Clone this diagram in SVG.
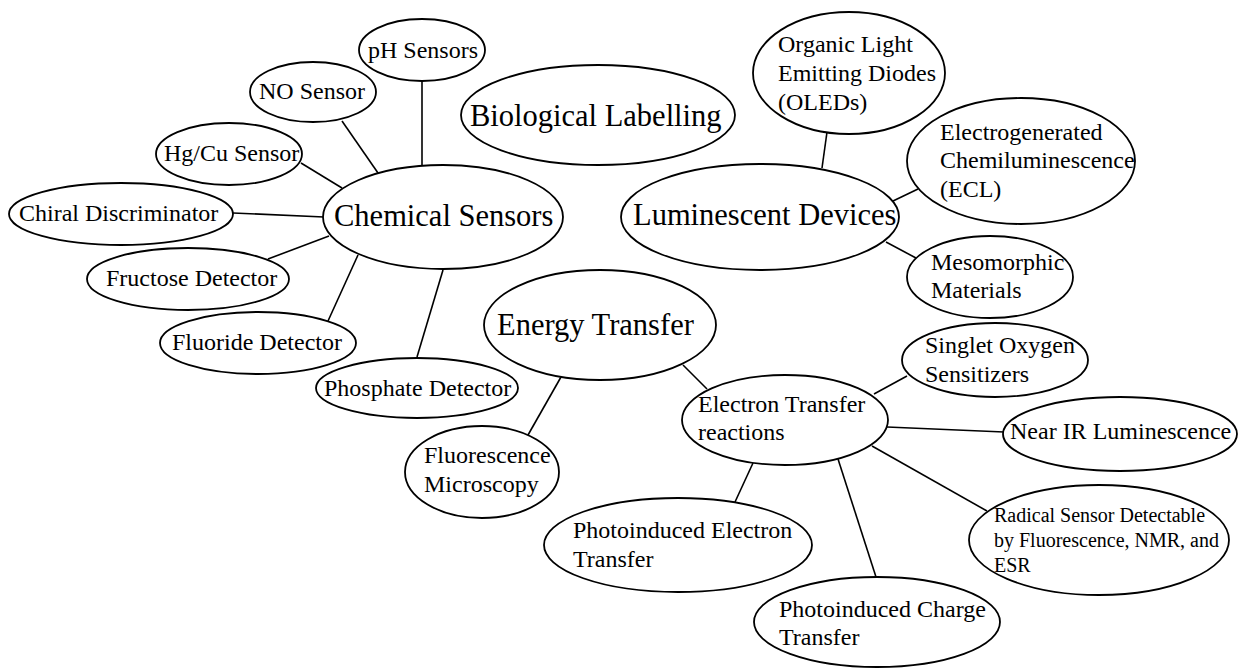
<svg xmlns="http://www.w3.org/2000/svg" width="1241" height="668" viewBox="0 0 1241 668" font-family="'Liberation Serif', 'Times New Roman', 'DejaVu Serif', serif">
<style>
.n ellipse{fill:#fff;stroke:#000;stroke-width:1.8}
.n text{fill:#000;font-family:'Liberation Serif','Times New Roman','DejaVu Serif',serif}
.s{font-size:24px}
.l{font-size:30.5px}
.r{font-size:20px}
#connectors line{stroke:#000;stroke-width:1.6}
</style>
<rect width="1241" height="668" fill="#fff"/>
<g id="connectors">
<line x1="422" y1="81" x2="422" y2="166"/>
<line x1="342" y1="121" x2="378" y2="173"/>
<line x1="301" y1="163" x2="342" y2="188"/>
<line x1="233" y1="213" x2="324" y2="217"/>
<line x1="268" y1="259" x2="329" y2="236"/>
<line x1="328" y1="321" x2="358" y2="255"/>
<line x1="417" y1="357" x2="443" y2="270"/>
<line x1="827" y1="132" x2="822" y2="168"/>
<line x1="918" y1="189" x2="893" y2="201"/>
<line x1="886" y1="242" x2="916" y2="258"/>
<line x1="683" y1="365" x2="707" y2="389"/>
<line x1="561" y1="377" x2="528" y2="435"/>
<line x1="874" y1="394" x2="907" y2="376"/>
<line x1="887" y1="427" x2="1004" y2="432"/>
<line x1="872" y1="446" x2="987" y2="511"/>
<line x1="838" y1="459" x2="876" y2="577"/>
<line x1="753" y1="463" x2="735" y2="502"/>
</g>
<g id="ph" class="n"><ellipse cx="422" cy="50" rx="63" ry="31"/><text class="s" x="368" y="58">pH Sensors</text></g>
<g id="no" class="n"><ellipse cx="313" cy="92" rx="63" ry="30"/><text class="s" x="259" y="99">NO Sensor</text></g>
<g id="hgcu" class="n"><ellipse cx="229" cy="154" rx="73" ry="31"/><text class="s" x="164" y="161">Hg/Cu Sensor</text></g>
<g id="chiral" class="n"><ellipse cx="121" cy="214" rx="112" ry="31"/><text class="s" x="19" y="221">Chiral Discriminator</text></g>
<g id="chem" class="n"><ellipse cx="443" cy="217" rx="120" ry="52"/><text class="l" x="334" y="226">Chemical Sensors</text></g>
<g id="fructose" class="n"><ellipse cx="188" cy="279" rx="101" ry="31"/><text class="s" x="106" y="286">Fructose Detector</text></g>
<g id="fluoride" class="n"><ellipse cx="258" cy="343" rx="98" ry="31"/><text class="s" x="172" y="350">Fluoride Detector</text></g>
<g id="phosphate" class="n"><ellipse cx="417" cy="388" rx="101" ry="30"/><text class="s" x="324" y="396">Phosphate Detector</text></g>
<g id="bio" class="n"><ellipse cx="598" cy="115" rx="137" ry="50"/><text class="l" x="470" y="126">Biological Labelling</text></g>
<g id="lum" class="n"><ellipse cx="760" cy="217" rx="139" ry="53"/><text class="l" x="633" y="225">Luminescent Devices</text></g>
<g id="oled" class="n"><ellipse cx="849" cy="73" rx="96" ry="61"/><text class="s" x="778"><tspan x="778" y="52">Organic Light</tspan><tspan x="778" y="81">Emitting Diodes</tspan><tspan x="778" y="110">(OLEDs)</tspan></text></g>
<g id="ecl" class="n"><ellipse cx="1021" cy="161" rx="114" ry="63"/><text class="s"><tspan x="940" y="140">Electrogenerated</tspan><tspan x="940" y="168">Chemiluminescence</tspan><tspan x="940" y="197">(ECL)</tspan></text></g>
<g id="meso" class="n"><ellipse cx="990" cy="277" rx="83" ry="41"/><text class="s"><tspan x="931" y="270">Mesomorphic</tspan><tspan x="931" y="298">Materials</tspan></text></g>
<g id="energy" class="n"><ellipse cx="600" cy="325" rx="116" ry="55"/><text class="l" x="497" y="335">Energy Transfer</text></g>
<g id="fluor" class="n"><ellipse cx="482" cy="472" rx="77" ry="46"/><text class="s"><tspan x="424" y="463">Fluorescence</tspan><tspan x="424" y="492">Microscopy</tspan></text></g>
<g id="et" class="n"><ellipse cx="785" cy="420" rx="103" ry="45"/><text class="s"><tspan x="698" y="412">Electron Transfer</tspan><tspan x="698" y="440">reactions</tspan></text></g>
<g id="singlet" class="n"><ellipse cx="995" cy="360" rx="93" ry="37"/><text class="s"><tspan x="925" y="353">Singlet Oxygen</tspan><tspan x="925" y="382">Sensitizers</tspan></text></g>
<g id="nearir" class="n"><ellipse cx="1120" cy="434" rx="117" ry="37"/><text class="s" x="1010" y="439">Near IR Luminescence</text></g>
<g id="radical" class="n"><ellipse cx="1099" cy="540" rx="130" ry="55"/><text class="r"><tspan x="994" y="522">Radical Sensor Detectable</tspan><tspan x="994" y="547">by Fluorescence, NMR, and</tspan><tspan x="994" y="572">ESR</tspan></text></g>
<g id="charge" class="n"><ellipse cx="877" cy="622" rx="123" ry="45"/><text class="s"><tspan x="779" y="617">Photoinduced Charge</tspan><tspan x="779" y="645">Transfer</tspan></text></g>
<g id="pet" class="n"><ellipse cx="678" cy="545" rx="134" ry="47"/><text class="s"><tspan x="573" y="538">Photoinduced Electron</tspan><tspan x="573" y="567">Transfer</tspan></text></g>
</svg>
